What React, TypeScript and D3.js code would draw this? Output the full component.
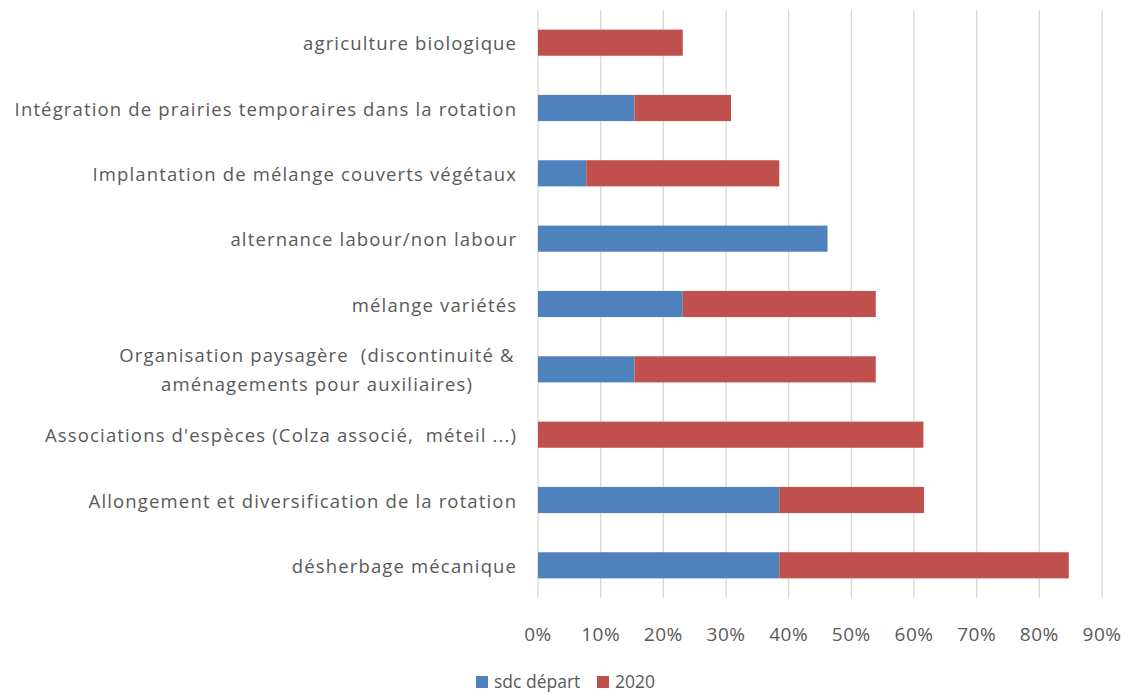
import * as d3 from "d3";

const categories = [
  ["agriculture biologique"],
  ["Intégration de prairies temporaires dans la rotation"],
  ["Implantation de mélange couverts végétaux"],
  ["alternance labour/non labour"],
  ["mélange variétés"],
  ["Organisation paysagère  (discontinuité &", "aménagements pour auxiliaires)"],
  ["Associations d'espèces (Colza associé,  méteil ...)"],
  ["Allongement et diversification de la rotation"],
  ["désherbage mécanique"],
];

const sdcDepart = [0, 15.4, 7.7, 46.2, 23.1, 15.4, 0, 38.5, 38.5];
const an2020 = [23.1, 15.4, 30.8, 0, 30.8, 38.5, 61.5, 23.1, 46.2];

const xTicks = [0, 10, 20, 30, 40, 50, 60, 70, 80, 90];

const seriesNames = ["sdc départ", "2020"];
const colors = ["#4F81BD", "#C0504D"];

const W = 1129;
const H = 694;
const left = 538;
const right = 1102;
const top = 10;
const bottom = 598;
const font = "'Open Sans', sans-serif";
const textColor = "#595959";
const fs = 18.5;
const ls = 1.15;

export default function App() {
  const x = d3.scaleLinear().domain([0, 90]).range([left, right]);
  const y = d3
    .scaleBand<number>()
    .domain(d3.range(categories.length))
    .range([top, bottom])
    .paddingInner(0.6)
    .paddingOuter(0.3);

  const rows = categories.map((c, i) => ({ i, a: sdcDepart[i], b: an2020[i] }));

  return (
    <div style={{ position: "fixed", left: 0, top: 0 }}>
      <svg width={W} height={H} style={{ display: "block", fontFamily: font }}>
        <rect width={W} height={H} fill="#fff" />
        {xTicks.map((t) => (
          <line key={t} x1={x(t)} x2={x(t)} y1={top} y2={bottom} stroke="#D9D9D9" strokeWidth={1.3} />
        ))}
        {rows.map((r) => (
          <g key={r.i}>
            {r.a > 0 && (
              <rect x={x(0)} y={y(r.i)} width={x(r.a) - x(0)} height={y.bandwidth()} fill={colors[0]} />
            )}
            {r.b > 0 && (
              <rect x={x(r.a)} y={y(r.i)} width={x(r.a + r.b) - x(r.a)} height={y.bandwidth()} fill={colors[1]} />
            )}
          </g>
        ))}
        {categories.map((lines, i) => {
          const cy = (y(i) ?? 0) + y.bandwidth() / 2;
          const lh = 29;
          return (
            <text
              key={i}
              fontSize={fs}
              fill={textColor}
              letterSpacing={ls}
              textAnchor={lines.length > 1 ? "middle" : "end"}
              style={{ whiteSpace: "pre" }}
            >
              {lines.map((l, j) => (
                <tspan
                  key={j}
                  x={lines.length > 1 ? 317 : 516 + ls}
                  y={cy + (j - (lines.length - 1) / 2) * lh}
                  dominantBaseline="central"
                >
                  {l}
                </tspan>
              ))}
            </text>
          );
        })}
        {xTicks.map((t) => (
          <text key={t} x={x(t)} y={634} fontSize={19} fill={textColor} textAnchor="middle" dominantBaseline="central" letterSpacing={0.5}>
            {t}%
          </text>
        ))}
        <g>
          <rect x={476} y={676} width={12} height={12} fill={colors[0]} />
          <text x={494} y={681} fontSize={17.5} fill={textColor} dominantBaseline="central">{seriesNames[0]}</text>
          <rect x={597} y={676} width={12} height={12} fill={colors[1]} />
          <text x={615} y={681} fontSize={17.5} fill={textColor} dominantBaseline="central">{seriesNames[1]}</text>
        </g>
      </svg>
    </div>
  );
}
